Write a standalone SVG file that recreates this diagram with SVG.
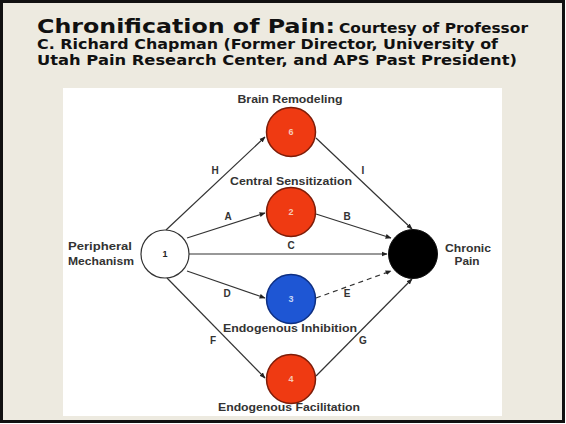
<svg xmlns="http://www.w3.org/2000/svg" width="566" height="424" viewBox="0 0 566 424">
<defs>
<marker id="arr" viewBox="0 0 10 10" refX="9" refY="5" markerWidth="6" markerHeight="6" orient="auto" markerUnits="userSpaceOnUse">
<path d="M0,1 L10,5 L0,9 z" fill="#222"/>
</marker>
<style>
.title{font-family:"DejaVu Sans",Verdana,sans-serif;font-weight:bold;fill:#111}
.lbl{font-family:"Liberation Sans",Arial,sans-serif;font-weight:bold;font-size:10.5px;fill:#333;text-anchor:middle}
.el{font-family:"Liberation Sans",Arial,sans-serif;font-weight:bold;font-size:10px;fill:#333;text-anchor:middle}
.num{font-family:"Liberation Sans",Arial,sans-serif;font-weight:bold;font-size:9px;text-anchor:middle}
.edge{stroke:#333;stroke-width:1.2;fill:none;marker-end:url(#arr)}
.red{fill:#EF3A12;stroke:#7d1c08;stroke-width:1.5}
.blue{fill:#1E56D4;stroke:#0e2f82;stroke-width:1.5}
</style>
</defs>
<rect x="1.5" y="1.5" width="562" height="420" fill="#EDEAE0" stroke="#111" stroke-width="3"/>
<rect x="63" y="88" width="439" height="328" fill="#FFFFFF"/>
<g id="title">
<text class="title" x="37" y="33" font-size="20" textLength="298" lengthAdjust="spacingAndGlyphs">Chronification of Pain:</text>
<text class="title" x="339" y="33" font-size="13.5" textLength="189" lengthAdjust="spacingAndGlyphs">Courtesy of Professor</text>
<text class="title" x="37" y="49" font-size="13.5" textLength="461" lengthAdjust="spacingAndGlyphs">C. Richard Chapman (Former Director, University of</text>
<text class="title" x="37" y="65" font-size="13.5" textLength="480" lengthAdjust="spacingAndGlyphs">Utah Pain Research Center, and APS Past President)</text>
</g>
<g id="connectors">
<line class="edge" x1="166" y1="230" x2="265" y2="137"/>
<line class="edge" x1="187" y1="238" x2="265" y2="213"/>
<line class="edge" x1="189" y1="254" x2="387" y2="254"/>
<line class="edge" x1="187" y1="271" x2="265" y2="298"/>
<line class="edge" x1="167" y1="278" x2="265" y2="378"/>
<line class="edge" x1="316" y1="138" x2="412" y2="229"/>
<line class="edge" x1="316" y1="214" x2="391" y2="238"/>
<line class="edge" x1="316" y1="298" x2="391" y2="271" stroke-dasharray="5,4"/>
<line class="edge" x1="316" y1="376" x2="412" y2="279"/>
<text class="el" x="215" y="174">H</text>
<text class="el" x="228" y="220">A</text>
<text class="el" x="291" y="249">C</text>
<text class="el" x="227" y="297">D</text>
<text class="el" x="213" y="344">F</text>
<text class="el" x="363" y="174">I</text>
<text class="el" x="347" y="220">B</text>
<text class="el" x="347" y="297">E</text>
<text class="el" x="363" y="344">G</text>
</g>
<g id="node1">
<circle cx="165" cy="254" r="24" fill="#fff" stroke="#333" stroke-width="1.2"/>
<text class="num" x="165" y="257" fill="#222">1</text>
<text class="lbl" x="100" y="250" textLength="64" lengthAdjust="spacingAndGlyphs">Peripheral</text>
<text class="lbl" x="101" y="265" textLength="66" lengthAdjust="spacingAndGlyphs">Mechanism</text>
</g>
<g id="node6">
<circle class="red" cx="291" cy="132" r="24.5"/>
<text class="num" x="291" y="135" fill="#f6c9b8">6</text>
<text class="lbl" x="290" y="103" textLength="105" lengthAdjust="spacingAndGlyphs">Brain Remodeling</text>
</g>
<g id="node2">
<circle class="red" cx="291" cy="212" r="24.5"/>
<text class="num" x="291" y="215" fill="#f6c9b8">2</text>
<text class="lbl" x="291" y="185" textLength="122" lengthAdjust="spacingAndGlyphs">Central Sensitization</text>
</g>
<g id="node3">
<circle class="blue" cx="291" cy="299" r="24.5"/>
<text class="num" x="291" y="302" fill="#c8d6f6">3</text>
<text class="lbl" x="290" y="332" textLength="134" lengthAdjust="spacingAndGlyphs">Endogenous Inhibition</text>
</g>
<g id="node4">
<circle class="red" cx="291" cy="379" r="24.5"/>
<text class="num" x="291" y="382" fill="#f6c9b8">4</text>
<text class="lbl" x="289" y="411" textLength="142" lengthAdjust="spacingAndGlyphs">Endogenous Facilitation</text>
</g>
<g id="nodeChronic">
<circle cx="413" cy="254" r="24.5" fill="#000" stroke="#111" stroke-width="1"/>
<text class="lbl" x="468" y="252" textLength="46" lengthAdjust="spacingAndGlyphs">Chronic</text>
<text class="lbl" x="467" y="265" textLength="25" lengthAdjust="spacingAndGlyphs">Pain</text>
</g>
</svg>
